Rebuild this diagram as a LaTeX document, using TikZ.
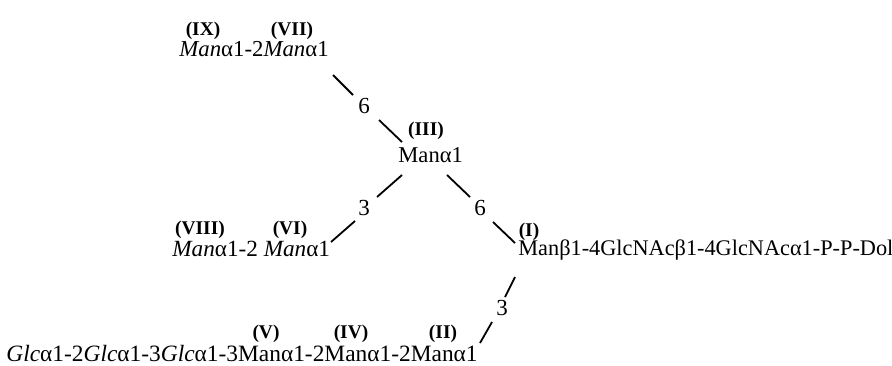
\documentclass[tikz,border=0pt]{standalone}
\usepackage{fontspec}
\setmainfont{Liberation Serif}
\begin{document}
\begin{tikzpicture}[x=0.5pt,y=-0.5pt,
  txt/.style={anchor=base west,inner sep=0pt,font=\fontsize{11}{13}\selectfont},
  rnum/.style={anchor=base,inner sep=0pt,font=\fontsize{9.7}{11}\selectfont\bfseries},
  digit/.style={inner sep=0pt,font=\fontsize{11.5}{13}\selectfont},
  bond/.style={line width=0.9pt}]
\useasboundingbox (0,0) rectangle (892,365);
% residues
\node[txt,font=\fontsize{11.4}{13}\selectfont] (top) at (179,56) {\textit{Man}α1-2\textit{Man}α1};
\node[rnum] (IX) at (203,35) {(IX)};
\node[rnum] (VII) at (292,35) {(VII)};
\node[txt,font=\fontsize{11.3}{13}\selectfont] (m3) at (398,162) {Manα1};
\node[rnum] (III) at (426,135) {(III)};
\node[txt,font=\fontsize{11.6}{13}\selectfont] (left) at (172,256) {\textit{Man}α1-2 \textit{Man}α1};
\node[rnum] (VIII) at (200,234) {(VIII)};
\node[rnum] (VI) at (290,234) {(VI)};
\node[txt,font=\fontsize{11.15}{13}\selectfont] (core) at (518,255) {Manβ1-4GlcNAcβ1-4GlcNAcα1-P-P-Dol};
\node[rnum] (I) at (529,236) {(I)};
\node[txt,font=\fontsize{11.7}{13}\selectfont] (bot) at (6,361) {\textit{Glc}α1-2\textit{Glc}α1-3\textit{Glc}α1-3Manα1-2Manα1-2Manα1};
\node[rnum] (V) at (266,338) {(V)};
\node[rnum] (IV) at (351,338) {(IV)};
\node[rnum] (II) at (443,338) {(II)};
% linkage digits
\node[digit] (d6a) at (364,106) {6};
\node[digit] (d3a) at (364,208) {3};
\node[digit] (d6b) at (480,208) {6};
\node[digit] (d3b) at (502,308) {3};
% bond ends
\coordinate (a1) at (333,75);  \coordinate (a2) at (353,95);
\coordinate (a3) at (379,120); \coordinate (a4) at (402,142);
\coordinate (b1) at (402,175); \coordinate (b2) at (377,197);
\coordinate (b3) at (355,221); \coordinate (b4) at (331,242);
\coordinate (c1) at (447,175); \coordinate (c2) at (470,197);
\coordinate (c3) at (493,222); \coordinate (c4) at (515,243);
\coordinate (e1) at (515,277); \coordinate (e2) at (505,297);
\coordinate (e3) at (492,322); \coordinate (e4) at (480,343);
\draw[bond] (a1) -- (a2) (a3) -- (a4);
\draw[bond] (b1) -- (b2) (b3) -- (b4);
\draw[bond] (c1) -- (c2) (c3) -- (c4);
\draw[bond] (e1) -- (e2) (e3) -- (e4);
\end{tikzpicture}
\end{document}
